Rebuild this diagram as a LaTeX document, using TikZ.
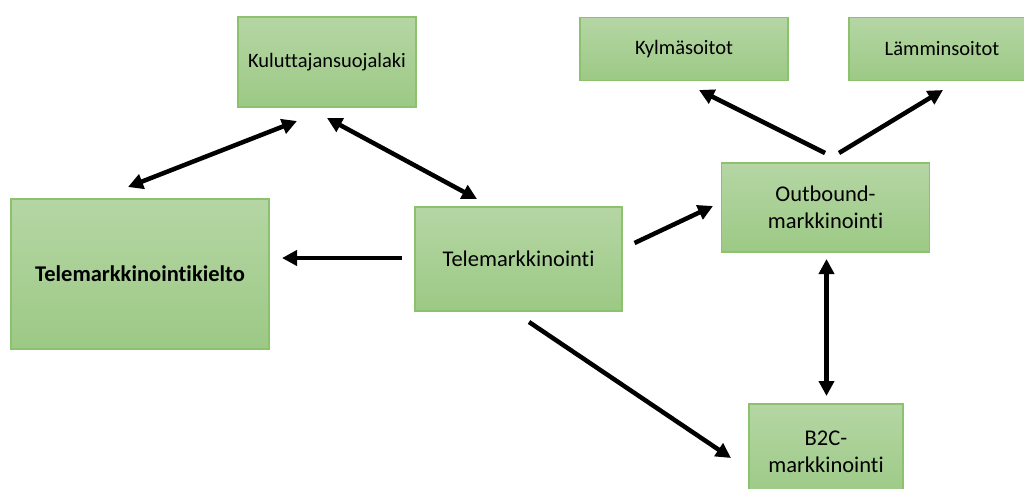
\documentclass[tikz,border=0pt]{standalone}
\usepackage{fontspec}
\setmainfont{Carlito}[Ligatures={NoCommon}]
\usetikzlibrary{arrows.meta}
\definecolor{boxtop}{HTML}{B5D6A4}
\definecolor{boxbot}{HTML}{9CC985}
\definecolor{boxline}{HTML}{8CC16E}
\tikzset{
  greenbox/.style={draw=boxline, line width=1.3pt, top color=boxtop, bottom color=boxbot,
    inner sep=0pt, align=center, text=black},
  smalltext/.style={font=\fontsize{20.5}{25}\selectfont},
  bigtext/.style={font=\fontsize{22.5}{27}\selectfont},
  conn/.style={line width=4.5pt, -{Triangle[length=15pt,width=15pt]}},
  biconn/.style={line width=4.5pt, {Triangle[length=15pt,width=15pt]}-{Triangle[length=15pt,width=15pt]}},
}
\begin{document}
\begin{tikzpicture}[x=1pt,y=-1pt]
\useasboundingbox (0,0) rectangle (1024,488);
\clip (0,0) rectangle (1024,488);
\fill[white] (0,0) rectangle (1024,488);

\node[greenbox, smalltext, minimum width=178pt, minimum height=90pt] (kul) at (327,62) {Kuluttajansuojalaki};
\node[greenbox, smalltext, minimum width=208pt, minimum height=63pt] (kyl) at (684,49) {Kylmäsoitot};
\node[greenbox, smalltext, minimum width=186pt, minimum height=63pt] (lam) at (942,49) {Lämminsoitot};
\node[greenbox, bigtext, font=\fontsize{22.5}{27}\selectfont\bfseries, minimum width=258pt, minimum height=150pt] (kielto) at (140,274) {Telemarkkinointikielto};
\node[greenbox, bigtext, minimum width=207pt, minimum height=104pt] (tele) at (518.5,259) {Telemarkkinointi};
\node[greenbox, bigtext, minimum width=208pt, minimum height=89pt] (out) at (825.5,207.5) {Outbound-\\markkinointi};
\node[greenbox, bigtext, minimum width=154pt, minimum height=96pt] (b2c) at (826,452) {B2C-\\markkinointi};

\coordinate (a1) at (128,187); \coordinate (a2) at (297,121);
\coordinate (b1) at (327,118); \coordinate (b2) at (477,199);
\coordinate (c1) at (402,258); \coordinate (c2) at (282,258);
\coordinate (d1) at (634.5,243); \coordinate (d2) at (713,206);
\coordinate (e1) at (529,322); \coordinate (e2) at (731,458);
\coordinate (f1) at (826.5,259); \coordinate (f2) at (826.5,396);
\coordinate (g1) at (825,153); \coordinate (g2) at (699,90);
\coordinate (h1) at (839,153); \coordinate (h2) at (943,90);

\draw[biconn] (a1) -- (a2);
\draw[biconn] (b1) -- (b2);
\draw[conn] (c1) -- (c2);
\draw[conn] (d1) -- (d2);
\draw[conn] (e1) -- (e2);
\draw[biconn] (f1) -- (f2);
\draw[conn] (g1) -- (g2);
\draw[conn] (h1) -- (h2);
\end{tikzpicture}
\end{document}
